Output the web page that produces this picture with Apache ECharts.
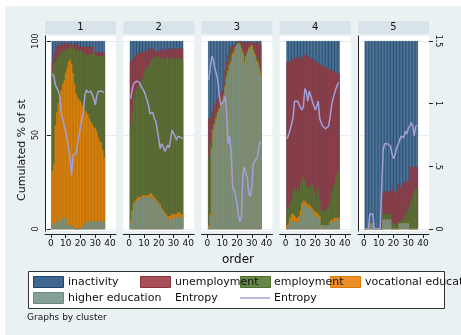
<!DOCTYPE html>
<html>
<head>
<meta charset="utf-8">
<script src="https://cdn.jsdelivr.net/npm/echarts@6/dist/echarts.min.js"></script>
<style>
  html, body { margin: 0; padding: 0; background: #ffffff; }
  #chart { width: 461px; height: 335px; }
</style>
</head>
<body>
<div id="chart"></div>
<script>
// Sequence position (months) on the x axis
const order = [1,2,3,4,5,6,7,8,9,10,11,12,13,14,15,16,17,18,19,20,21,22,23,24,25,26,27,28,29,30,31,32,33,34,35,36];
const clusters = ['1', '2', '3', '4', '5'];

// Cumulated percentages, one row per cluster (bottom state first)
const higherEdCum = [
  [2,2,3,4,4,4,4,6,6,6,2,2,2,2,2,0,0,0,0,0,2,2,2,4,4,4,4,4,4,4,4,4,4,4,4,4],
  [3,9,13,14,15,15,16,16,17,17,17,17,17,18,17,16,16,15,14,13,12,10,9,8,7,6,5,5,6,6,6,6,7,7,6,6],
  [1,7,42,52,55,58,61,63,65,67,70,75,80,83,86,88,92,93,96,98,99,98,95,93,88,91,93,95,96,97,94,92,89,88,85,82],
  [0,2,4,4,4,4,3,4,4,7,11,14,13,12,11,11,11,10,8,7,7,6,5,2,2,2,2,2,2,3,3,4,4,5,5,5],
  [0,0,0,3,3,3,0,0,0,0,0,0,5,5,5,5,5,5,0,0,0,0,0,3,3,3,3,3,3,3,0,0,0,0,0,0]
];
const vocationalCum = [
  [31,35,55,62,67,71,74,77,79,83,86,89,90,88,83,77,72,70,69,68,66,64,63,62,61,59,57,56,54,54,52,49,47,46,42,38],
  [4,10,14,15,16,17,17,17,18,18,18,18,18,19,19,18,17,16,15,14,13,11,10,9,8,7,7,7,8,8,8,8,9,9,8,8],
  [2,8,43,53,56,59,62,64,66,68,71,76,81,84,87,89,93,94,97,98,99,98,96,94,89,92,94,96,97,98,95,93,90,89,86,83],
  [2,3,6,8,8,7,6,6,7,10,14,15,15,14,13,13,12,11,10,9,9,8,7,2,2,2,2,2,2,4,5,5,6,6,6,6],
  [0,0,0,3,3,3,0,0,0,0,0,0,5,5,5,5,5,5,0,0,0,0,0,3,3,3,3,3,3,3,0,0,0,0,0,0]
];
const employmentCum = [
  [84,88,89,91,92,93,94,95,95,95,95,96,97,97,96,96,95,96,95,95,94,93,93,93,92,93,93,93,94,93,92,92,92,92,92,92],
  [55,62,70,73,74,76,77,78,80,83,85,86,87,88,90,91,91,92,91,92,91,91,91,90,91,92,91,90,91,91,90,91,90,91,91,90],
  [38,46,53,56,59,62,63,65,67,69,72,79,85,88,91,93,95,96,97,99,99.5,99,97,95,93,93,95,97,97,98,96,95,92,91,88,85],
  [10,11,14,15,20,22,20,22,20,24,27,28,26,23,22,21,23,24,20,21,17,22,15,10,10,9,10,11,12,15,19,21,24,28,30,31],
  [0,0,0,3,3,3,0,0,0,0,0,0,8,8,8,8,8,8,3,3,3,3,3,4,4,5,6,8,9,11,13,15,18,20,22,22]
];
const unemploymentCum = [
  [89,93,95,97,98,98,99,98,99,99,98,99,98,98,98,98,99,98,97,97,97,96,97,97,97,97,97,97,94,94,94,94,94,94,94,94],
  [89,90,91,92,93,93,93,94,94,94,95,94,95,96,96,96,95,94,94,95,95,96,95,95,96,96,96,95,96,96,96,96,96,96,96,96],
  [59,59,62,64,66,68,69,71,72,74,78,85,89,92,95,97,97,98,99,99.6,100,100,99.5,99.5,99,99,99,99.5,99.5,99,99,99,99.5,99,99,98],
  [89,89,89,90,90,91,91,92,92,90,91,92,93,92,92,91,91,90,90,89,89,88,88,87,87,86,86,86,85,85,84,84,84,83,83,83],
  [0,0,0,3,3,3,0,0,0,0,0,0,20,20,20,20,20,20,21,22,19,20,24,22,22,24,25,25,25,26,33,33,33,33,33,33]
];
const inactivityCum = [
  [100,100,100,100,100,100,100,100,100,100,100,100,100,100,100,100,100,100,100,100,100,100,100,100,100,100,100,100,100,100,100,100,100,100,100,100],
  [100,100,100,100,100,100,100,100,100,100,100,100,100,100,100,100,100,100,100,100,100,100,100,100,100,100,100,100,100,100,100,100,100,100,100,100],
  [100,100,100,100,100,100,100,100,100,100,100,100,100,100,100,100,100,100,100,100,100,100,100,100,100,100,100,100,100,100,100,100,100,100,100,100],
  [100,100,100,100,100,100,100,100,100,100,100,100,100,100,100,100,100,100,100,100,100,100,100,100,100,100,100,100,100,100,100,100,100,100,100,100],
  [100,100,100,100,100,100,100,100,100,100,100,100,100,100,100,100,100,100,100,100,100,100,100,100,100,100,100,100,100,100,100,100,100,100,100,100]
];
// Cross-sectional entropy (right axis)
const entropy = [
  [1.24,1.22,1.15,1.14,1.10,1.06,0.92,0.88,0.82,0.78,0.71,0.64,0.55,0.43,0.59,0.58,0.60,0.68,0.75,0.82,0.88,0.94,1.07,1.11,1.09,1.08,1.10,1.07,1.04,0.99,1.06,1.10,1.10,1.10,1.09,1.09],
  [1.04,1.11,1.16,1.17,1.18,1.19,1.17,1.14,1.12,1.10,1.07,1.06,0.99,0.92,0.91,0.93,0.88,0.86,0.79,0.72,0.64,0.68,0.66,0.62,0.64,0.67,0.65,0.71,0.79,0.78,0.74,0.71,0.74,0.74,0.73,0.72],
  [1.19,1.30,1.38,1.35,1.28,1.24,1.19,1.07,0.99,0.98,1.02,1.06,0.92,0.68,0.74,0.63,0.34,0.31,0.27,0.20,0.10,0.06,0.10,0.44,0.50,0.44,0.40,0.28,0.26,0.34,0.52,0.54,0.55,0.58,0.67,0.70],
  [0.72,0.71,0.79,0.84,0.89,1.02,1.02,1.02,1.02,0.97,0.95,0.98,1.12,1.09,1.02,1.10,1.09,1.02,1.01,0.95,0.98,1.02,0.88,0.85,0.82,0.82,0.80,0.80,0.82,0.89,0.98,1.04,1.08,1.12,1.15,1.17],
  [0,0,0,0.12,0.12,0.12,0,0,0,0,0,0,0.63,0.68,0.68,0.68,0.68,0.66,0.60,0.56,0.59,0.64,0.67,0.70,0.74,0.74,0.73,0.78,0.76,0.80,0.82,0.85,0.82,0.74,0.82,0.83]
];

const FONT = 'DejaVu Sans';
const INK = '#111111';
const AXIS = '#222222';
const REGION_BG = '#eaf1f3';

// State colours: bar fill, legend key fill and outline
const states = [
  { name: 'inactivity',           data: inactivityCum,   fill: '#2f5882', key: '#3f6690', line: '#1a476f' },
  { name: 'unemployment',         data: unemploymentCum, fill: '#9c434b', key: '#a6515a', line: '#8a333b' },
  { name: 'employment',           data: employmentCum,   fill: '#5c7c3a', key: '#66874a', line: '#4f6e2c' },
  { name: 'vocational education', data: vocationalCum,   fill: '#e8860f', key: '#ec8f28', line: '#dc7b02' },
  { name: 'higher education',     data: higherEdCum,     fill: '#7a988e', key: '#84a098', line: '#6a8a80' }
];
const ENTROPY_COLOR = '#a49fd9';

// Panel geometry
const PANEL_X0 = 45, PANEL_STEP = 78.25, PANEL_W = 71;
const PLOT_TOP = 41, PLOT_H = 188;         // 100% at top, 0% at bottom
const X_MIN = -4, X_MAX = 44;
const barPx = PANEL_W / (X_MAX - X_MIN);

const grids = [], xAxes = [], yAxes = [], series = [], graphics = [];

// thin white outer margin on the top and left edges
graphics.push({ type: 'rect', z: -100, shape: { x: 0, y: 0, width: 461, height: 6 }, style: { fill: '#ffffff' } });
graphics.push({ type: 'rect', z: -100, shape: { x: 0, y: 0, width: 5, height: 335 }, style: { fill: '#ffffff' } });

clusters.forEach((label, i) => {
  const L = PANEL_X0 + i * PANEL_STEP;
  const first = i === 0, last = i === clusters.length - 1;

  // white plot region + outer y axis lines
  grids.push({ left: L, top: 36, width: PANEL_W, height: 195, show: true, backgroundColor: '#ffffff', borderWidth: 0, z: -1 });
  xAxes.push({ gridIndex: 3 * i, type: 'value', min: 0, max: 1, show: false });
  yAxes.push({
    gridIndex: 3 * i, type: 'value', min: 0, max: 1, show: first || last,
    position: last ? 'right' : 'left',
    axisLine: { show: true, lineStyle: { color: AXIS, width: 1 } },
    axisTick: { show: false }, axisLabel: { show: false }, splitLine: { show: false }
  });

  // data grid
  grids.push({ left: L, top: PLOT_TOP, width: PANEL_W, height: PLOT_H });
  xAxes.push({
    gridIndex: 3 * i + 1, type: 'value', min: X_MIN, max: X_MAX, offset: 5,
    axisLine: { show: true, onZero: false, lineStyle: { color: AXIS, width: 1 } },
    axisTick: { show: false }, axisLabel: { show: false }, splitLine: { show: false }
  });
  yAxes.push({
    gridIndex: 3 * i + 1, type: 'value', min: 0, max: 100, interval: 50, position: 'left',
    axisLine: { show: false },
    axisTick: { show: first, length: 4, lineStyle: { color: AXIS } },
    axisLabel: { show: first, rotate: 90, margin: 5, fontFamily: FONT, fontSize: 8, color: INK },
    splitLine: { show: true, lineStyle: { color: '#e6eef1', width: 1 } }
  });
  yAxes.push({
    gridIndex: 3 * i + 1, type: 'value', min: 0, max: 1.5, interval: 0.5, position: 'right',
    axisLine: { show: false },
    axisTick: { show: last, length: 4, lineStyle: { color: AXIS } },
    axisLabel: {
      show: last, rotate: -90, margin: 5, fontFamily: FONT, fontSize: 8, color: INK,
      formatter: v => String(v).replace(/^0\./, '.')
    },
    splitLine: { show: false }
  });

  // tick grid for the 0..40 scale
  grids.push({ left: L + barPx * (0 - X_MIN), top: PLOT_TOP, width: barPx * 40, height: PLOT_H });
  xAxes.push({
    gridIndex: 3 * i + 2, type: 'value', min: 0, max: 40, interval: 10, offset: 5,
    axisLine: { show: false, onZero: false },
    axisTick: { show: true, length: 4, lineStyle: { color: AXIS } },
    axisLabel: { show: true, margin: 5, fontFamily: FONT, fontSize: 9, color: INK },
    splitLine: { show: false }
  });
  yAxes.push({ gridIndex: 3 * i + 2, type: 'value', min: 0, max: 100, show: false });

  // overlaid cumulated bars, top state first
  states.forEach(s => {
    series.push({
      type: 'bar', name: s.name,
      xAxisIndex: 3 * i + 1, yAxisIndex: 4 * i + 1,
      barWidth: barPx, barGap: '-100%',
      itemStyle: { color: s.fill, borderColor: s.line, borderWidth: 0.5 },
      data: order.map((o, k) => [o, s.data[i][k]]),
      z: 2
    });
  });
  series.push({
    type: 'line', name: 'Entropy',
    xAxisIndex: 3 * i + 1, yAxisIndex: 4 * i + 2,
    showSymbol: false, symbol: 'none',
    lineStyle: { color: ENTROPY_COLOR, width: 1.5 },
    data: order.map((o, k) => [o, entropy[i][k]]),
    z: 5
  });

  // facet header
  graphics.push({ type: 'rect', shape: { x: L, y: 21, width: PANEL_W, height: 13 }, style: { fill: '#d8e4ea' } });
  graphics.push({
    type: 'text', x: L + PANEL_W / 2, y: 27.5,
    style: { text: label, font: '10px "DejaVu Sans"', fill: INK, align: 'center', verticalAlign: 'middle', textAlign: 'center', textVerticalAlign: 'middle' }
  });
});

// axis titles
graphics.push({
  type: 'text', x: 22, y: 150, rotation: Math.PI / 2,
  style: { text: 'Cumulated % of st', font: '11px "DejaVu Sans"', fill: INK, align: 'center', verticalAlign: 'middle', textAlign: 'center', textVerticalAlign: 'middle' }
});
graphics.push({
  type: 'text', x: 238, y: 260,
  style: { text: 'order', font: '12px "DejaVu Sans"', fill: INK, align: 'center', verticalAlign: 'middle', textAlign: 'center', textVerticalAlign: 'middle' }
});

// legend
graphics.push({ type: 'rect', shape: { x: 28.5, y: 271.5, width: 416, height: 37 }, style: { fill: '#ffffff', stroke: '#333333', lineWidth: 1 } });
const legendKeys = [
  { s: states[0], x: 33,  y: 276 },
  { s: states[1], x: 140, y: 276 },
  { s: states[2], x: 240, y: 276 },
  { s: states[3], x: 330, y: 276 },
  { s: states[4], x: 33,  y: 292 }
];
legendKeys.forEach(k => {
  graphics.push({ type: 'rect', z: 10, shape: { x: k.x + 0.5, y: k.y + 0.5, width: 30, height: 11 }, style: { fill: k.s.key, stroke: k.s.line, lineWidth: 1 } });
});
graphics.push({ type: 'line', z: 10, shape: { x1: 240, y1: 298, x2: 270, y2: 298 }, style: { stroke: ENTROPY_COLOR, lineWidth: 1.4 } });
const legendTexts = [
  { t: 'inactivity', x: 68, y: 282 },
  { t: 'unemployment', x: 175, y: 282 },
  { t: 'employment', x: 274, y: 282 },
  { t: 'vocational education', x: 365, y: 282 },
  { t: 'higher education', x: 68, y: 298 },
  { t: 'Entropy', x: 175, y: 298 },
  { t: 'Entropy', x: 274, y: 298 }
];
legendTexts.forEach(d => {
  graphics.push({
    type: 'text', z: 20, x: d.x, y: d.y,
    style: { text: d.t, font: '11px "DejaVu Sans"', fill: INK, align: 'left', verticalAlign: 'middle', textAlign: 'left', textVerticalAlign: 'middle' }
  });
});
graphics.push({
  type: 'text', x: 27, y: 318,
  style: { text: 'Graphs by cluster', font: '9px "DejaVu Sans"', fill: INK, align: 'left', verticalAlign: 'middle', textAlign: 'left', textVerticalAlign: 'middle' }
});

const chart = echarts.init(document.getElementById('chart'), null, { renderer: 'canvas' });
chart.setOption({
  animation: false,
  backgroundColor: REGION_BG,
  textStyle: { fontFamily: FONT },
  grid: grids,
  xAxis: xAxes,
  yAxis: yAxes,
  series: series,
  graphic: { elements: graphics }
});
</script>
</body>
</html>
